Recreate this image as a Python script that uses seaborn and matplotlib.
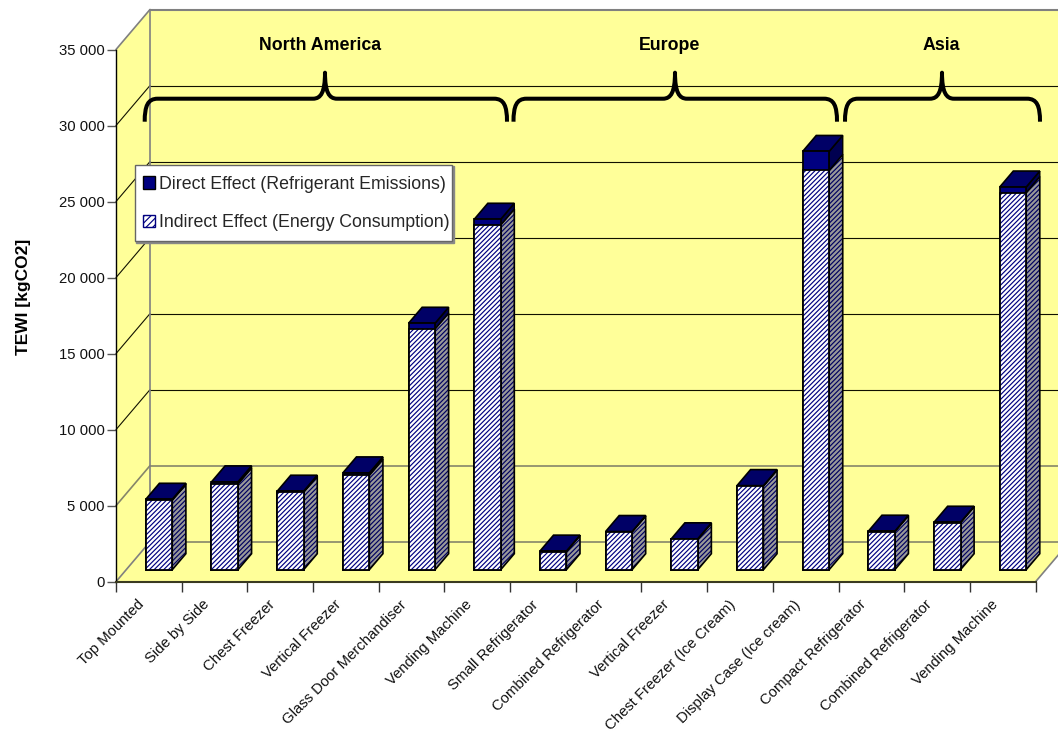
import numpy as np
import matplotlib
matplotlib.use("Agg")
import matplotlib.pyplot as plt
import seaborn as sns
from matplotlib.patches import Polygon, Patch, PathPatch, Rectangle
from matplotlib.path import Path
from matplotlib.transforms import Affine2D, IdentityTransform, ScaledTranslation

# TEWI per appliance, kgCO2
categories = ["Top Mounted", "Side by Side", "Chest Freezer", "Vertical Freezer",
              "Glass Door Merchandiser", "Vending Machine", "Small Refrigerator",
              "Combined Refrigerator", "Vertical Freezer", "Chest Freezer (Ice Cream)",
              "Display Case (Ice cream)", "Compact Refrigerator",
              "Combined Refrigerator", "Vending Machine"]
indirect = [4570, 5640, 5100, 6210, 15830, 22670, 1190, 2480, 2000, 5500, 26260, 2500, 3090, 24800]
direct = [60, 135, 60, 155, 375, 375, 30, 30, 30, 30, 1245, 30, 30, 365]
regions = ["North America", "Europe", "Asia"]
y_ticks = [0, 5000, 10000, 15000, 20000, 25000, 30000, 35000]
legend_labels = ["Direct Effect (Refrigerant Emissions)", "Indirect Effect (Energy Consumption)"]

NAVY = "#000080"
YELLOW = "#FFFF99"
EDGE = "#808080"
HATCH = "///////"
W, H = 1058, 731

sns.set_theme(style="white")
plt.rcParams["font.family"] = ["Liberation Sans", "DejaVu Sans"]
plt.rcParams["hatch.linewidth"] = 0.85

fig = plt.figure(figsize=(W / 100, H / 100), dpi=100, facecolor="white")
ax = fig.add_axes([116 / W, 1 - 581.7 / H, 919.6 / W, 532.2 / H])
ax.patch.set_visible(False)

positions = np.arange(len(categories))
indirect_arr = np.array(indirect)
totals = indirect_arr + np.array(direct)
BAR_W = 0.403

# Stacked front faces: full height in navy, the indirect share hatched on top
sns.barplot(x=positions, y=totals, color=NAVY, saturation=1, width=BAR_W,
            edgecolor="black", linewidth=1.3, ax=ax)
sns.barplot(x=positions, y=indirect_arr, color="white", saturation=1, width=BAR_W,
            edgecolor=NAVY, linewidth=0, hatch=HATCH, ax=ax)
sns.barplot(x=positions, y=indirect_arr, color="black", saturation=1, width=BAR_W,
            fill=False, linewidth=1.3, ax=ax)

ax.set_xlim(-0.5, len(categories) - 0.5)
ax.set_ylim(0, 35000)

# The bars stand a third of the way into the floor depth
DEPTH_X, DEPTH_Y = 34.0, 40.0
BAR_FRONT = 0.30
BAR_DEPTH = 0.40
shift = ScaledTranslation(BAR_FRONT * DEPTH_X / 100, BAR_FRONT * DEPTH_Y / 100, fig.dpi_scale_trans)
for container in ax.containers:
    for bar in container:
        bar.set_transform(ax.transData + shift)
        bar.set_clip_on(False)
        bar.set_zorder(4)


def pt(x, y, d):
    """Display position of a data point pushed d (0-1) into the chart depth."""
    px, py = ax.transData.transform((x, y))
    return (px + d * DEPTH_X, py + d * DEPTH_Y)


def face(points, zorder, **kw):
    ax.add_patch(Polygon(points, closed=True, transform=IdentityTransform(),
                         clip_on=False, zorder=zorder, **kw))


x0, x1 = ax.get_xlim()
ymax = y_ticks[-1]

# Walls and floor
face([pt(x0, 0, 0), pt(x0, ymax, 0), pt(x0, ymax, 1), pt(x0, 0, 1)], 0.1, facecolor=YELLOW, edgecolor="none")
face([pt(x0, 0, 1), pt(x0, ymax, 1), pt(x1, ymax, 1), pt(x1, 0, 1)], 0.1, facecolor=YELLOW, edgecolor="none")
face([pt(x0, 0, 0), pt(x1, 0, 0), pt(x1, 0, 1), pt(x0, 0, 1)], 0.1, facecolor=YELLOW, edgecolor="none")


def seg(a, b, color, lw, zorder=0.5):
    ax.add_line(plt.Line2D([a[0], b[0]], [a[1], b[1]], color=color, lw=lw,
                           transform=IdentityTransform(), clip_on=False, zorder=zorder))


# Gridlines run along the left wall and across the back wall
for v in y_ticks[:-1]:
    soft = v <= 5000
    color, lw = ("#85856a", 1.2) if soft else ("#111100", 0.8)
    seg(pt(x0, v, 0), pt(x0, v, 1), color if v else EDGE, lw)
    seg(pt(x0, v, 1), pt(x1, v, 1), color, lw)

# Gray frame edges
seg(pt(x0, ymax, 0), pt(x0, ymax, 1), EDGE, 1.2)
seg(pt(x0, ymax, 1), pt(x1, ymax, 1), EDGE, 1.5)
seg(pt(x0, 0, 1), pt(x0, ymax, 1), EDGE, 1.2)
seg(pt(x1, 0, 0), pt(x1, 0, 1), EDGE, 1.2)

# Side and top faces of each column
half = BAR_W / 2
for p, ind, tot in zip(positions, indirect_arr, totals):
    l, r = p - half, p + half
    d0, d1 = BAR_FRONT, BAR_FRONT + BAR_DEPTH
    face([pt(r, 0, d0), pt(r, ind, d0), pt(r, ind, d1), pt(r, 0, d1)], 3,
         facecolor="#999999", edgecolor="#000060", linewidth=0, hatch=HATCH)
    face([pt(r, 0, d0), pt(r, ind, d0), pt(r, ind, d1), pt(r, 0, d1)], 3.1,
         fill=False, edgecolor="black", linewidth=1.2)
    face([pt(r, ind, d0), pt(r, tot, d0), pt(r, tot, d1), pt(r, ind, d1)], 3.2,
         facecolor="#000050", edgecolor="black", linewidth=1.0)
    face([pt(l, tot, d0), pt(r, tot, d0), pt(r, tot, d1), pt(l, tot, d1)], 3.3,
         facecolor="#000066", edgecolor="black", linewidth=1.2)

# Axes furniture
for side in ("top", "right"):
    ax.spines[side].set_visible(False)
ax.spines["left"].set_color("black")
ax.spines["left"].set_linewidth(1.0)
ax.spines["bottom"].set_color("#3a3a20")
ax.spines["bottom"].set_linewidth(1.5)
ax.spines["left"].set_zorder(1)
ax.spines["bottom"].set_zorder(1)

ax.set_yticks(y_ticks)
ax.set_yticklabels([f"{v:,}".replace(",", " ") for v in y_ticks], fontsize=10.7, color="#111111")
ax.tick_params(axis="y", which="major", left=True, length=6.8, width=1.0, color="#555555", pad=1.5)

ax.set_xticks(np.arange(x0, x1 + 0.01, 1.0))
ax.set_xticklabels([])
ax.set_xticks(positions, minor=True)
ax.set_xticklabels(categories, minor=True, rotation=45, ha="right", va="top",
                   rotation_mode="anchor", fontsize=10.7, color="#111111")
ax.tick_params(axis="x", which="major", bottom=True, length=7.2, width=1.0, color="#333333")
ax.tick_params(axis="x", which="minor", bottom=False, length=0, pad=15)
label_nudge = ScaledTranslation(-12 / 100, 5 / 100, fig.dpi_scale_trans)
for lab in ax.get_xticklabels(minor=True):
    lab.set_transform(lab.get_transform() + label_nudge)

ax.set_xlabel("")
ax.set_ylabel("TEWI [kgCO2]", fontsize=12.5, fontweight="bold", color="black")
ax.yaxis.set_label_coords(-0.092, 0.535)

# Figure-pixel coordinates for the hand-placed region annotations
page = Affine2D().scale(1, -1).translate(0, H)


def brace(left, tip, right, base=121.7, bar=98.7, top=72.7):
    verts = [(left, base), (left, 106), (left + 3, bar), (left + 13, bar),
             (tip - 12, bar),
             (tip - 4, bar), (tip, 92), (tip, top),
             (tip, 92), (tip + 4, bar), (tip + 12, bar),
             (right - 13, bar),
             (right - 3, bar), (right, 106), (right, base)]
    codes = [Path.MOVETO, Path.CURVE4, Path.CURVE4, Path.CURVE4,
             Path.LINETO,
             Path.CURVE4, Path.CURVE4, Path.CURVE4,
             Path.CURVE4, Path.CURVE4, Path.CURVE4,
             Path.LINETO,
             Path.CURVE4, Path.CURVE4, Path.CURVE4]
    ax.add_patch(PathPatch(Path(verts, codes), fill=False, edgecolor="black", linewidth=2.9,
                           capstyle="butt", joinstyle="round", transform=page,
                           clip_on=False, zorder=15))


brace(144.7, 325, 507)
brace(513.5, 675, 837)
brace(845, 942, 1040)

for label, cx in zip(regions, [320, 670, 941]):
    fig.text(cx, 45, label, transform=page, ha="center", va="center",
             fontsize=12.8, fontweight="bold", color="black")

# Legend box with a small drop shadow behind the entries
for dx, fc, ec, zo in [(1.5, "#888888", "#888888", 18), (0, "white", "#666666", 19)]:
    ax.add_patch(Rectangle((134.5 + dx, 164.5 + dx), 317.5, 76.5, facecolor=fc, edgecolor=ec,
                           linewidth=1.0, transform=page, clip_on=False, zorder=zo))

handles = [Patch(facecolor=NAVY, edgecolor="black", linewidth=1.0),
           Patch(facecolor="white", edgecolor=NAVY, linewidth=1.0, hatch="/////")]
legend = ax.legend(handles, legend_labels, loc="upper left",
                   bbox_to_anchor=(134 / W, 1 - 167 / H), bbox_transform=fig.transFigure,
                   borderaxespad=0, fontsize=12.8, frameon=False,
                   handlelength=0.7, handleheight=0.7, handletextpad=0.2,
                   labelspacing=1.2, borderpad=0.5)
legend.set_zorder(20)

fig.savefig("out.png", dpi=100, facecolor="white")
